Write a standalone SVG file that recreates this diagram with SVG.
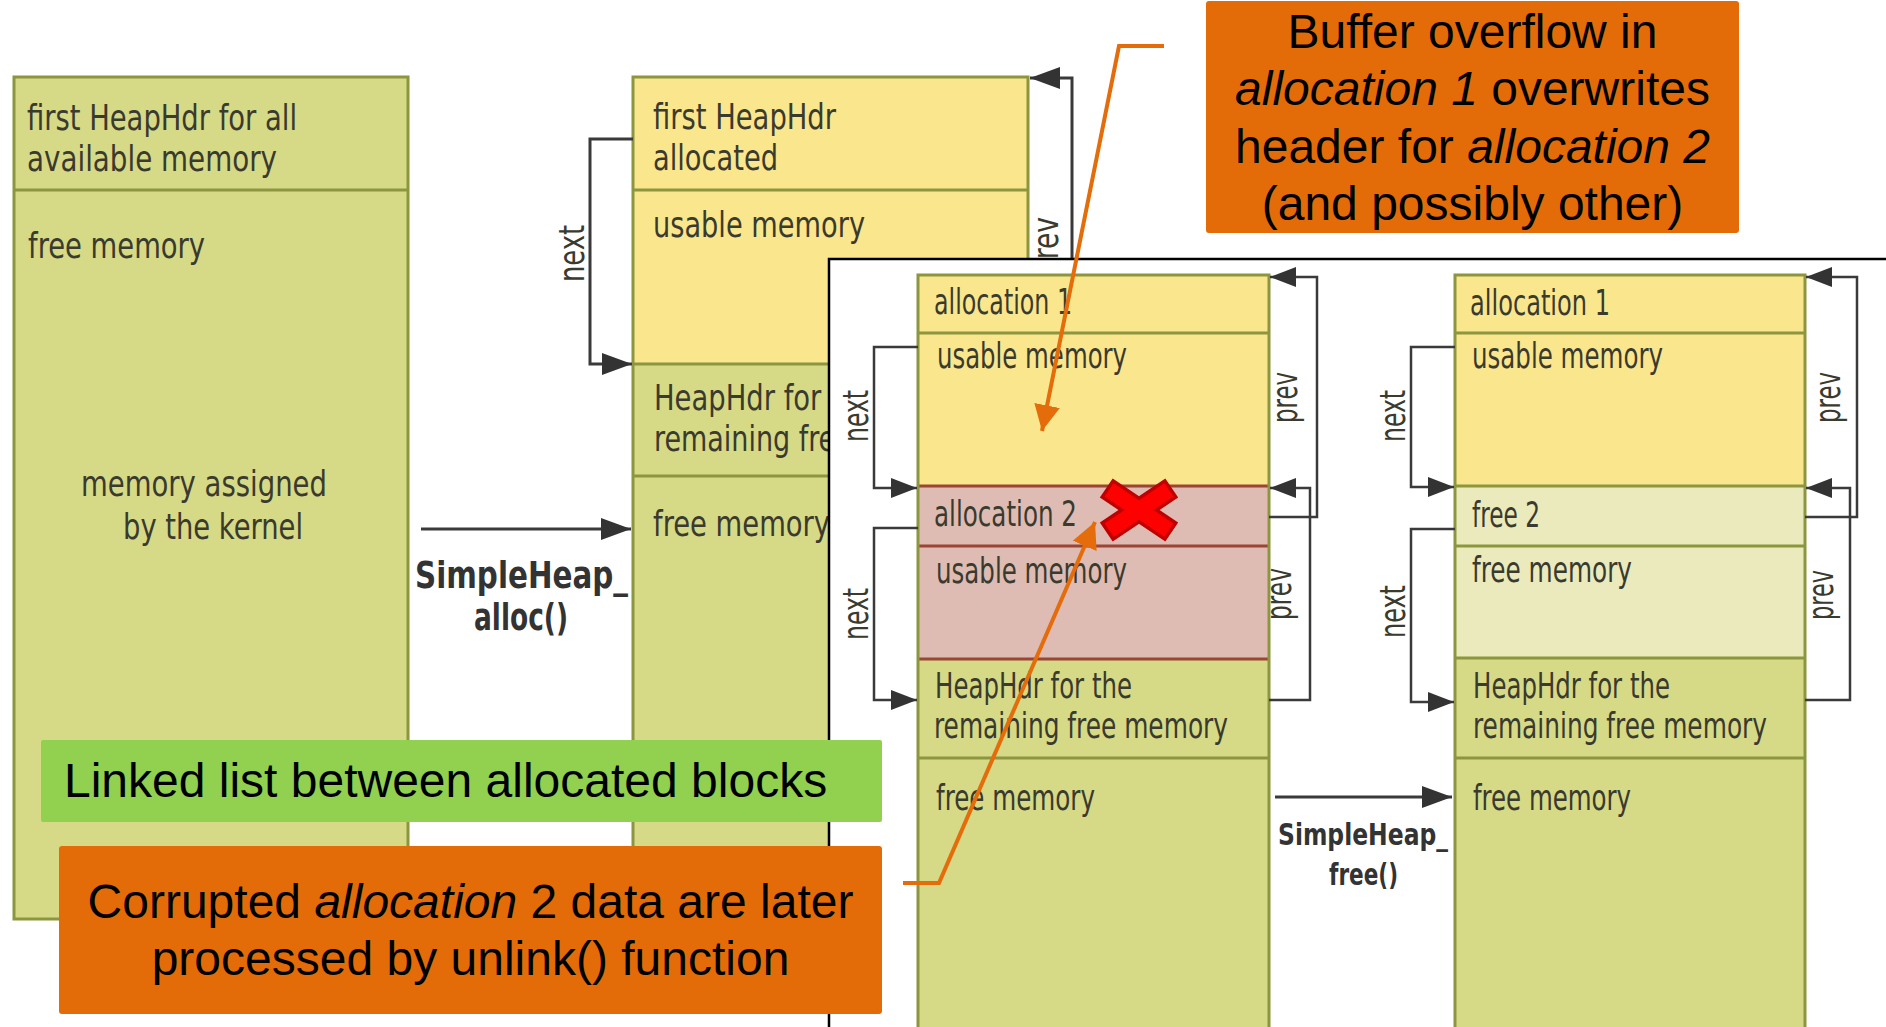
<svg xmlns="http://www.w3.org/2000/svg" width="1886" height="1027" viewBox="0 0 1886 1027">
<defs>
<style>
.t{font-family:"Liberation Sans Narrow","Arial Narrow","DejaVu Sans Condensed",sans-serif;fill:#3a3a2e;}
.ta{font-size:36px}
.tc{font-size:35px}
.lb{font-family:"Liberation Sans Narrow","Arial Narrow","DejaVu Sans Condensed",sans-serif;font-weight:bold;fill:#333333}
.n{font-family:"Liberation Sans",Arial,sans-serif;font-size:48px;fill:#000000}
.olive{fill:#D6D986}
.yel{fill:#FAE68C}
.pink{fill:#DFBCB3}
.pale{fill:#EAEABD}
.bd{fill:none;stroke:#8C963E;stroke-width:3}
.dv{stroke:#8C963E;stroke-width:3}
.dr{stroke:#9A4535;stroke-width:3}
.ln{fill:none;stroke:#3a3a3a;stroke-width:3}
.lns{fill:none;stroke:#3a3a3a;stroke-width:2.5}
.or{fill:none;stroke:#E46C0A;stroke-width:4}
</style>
<marker id="ah" viewBox="0 0 10 10" refX="10" refY="5" markerWidth="30" markerHeight="22" markerUnits="userSpaceOnUse" orient="auto" preserveAspectRatio="none"><path d="M0,0 L10,5 L0,10 z" fill="#333333"/></marker>
<marker id="ahs" viewBox="0 0 10 10" refX="10" refY="5" markerWidth="26" markerHeight="20" markerUnits="userSpaceOnUse" orient="auto" preserveAspectRatio="none"><path d="M0,0 L10,5 L0,10 z" fill="#333333"/></marker>
<marker id="aho" viewBox="0 0 10 10" refX="10" refY="5" markerWidth="26" markerHeight="26" markerUnits="userSpaceOnUse" orient="auto" preserveAspectRatio="none"><path d="M0,0 L10,5 L0,10 z" fill="#E46C0A"/></marker>
</defs>
<rect width="1886" height="1027" fill="#ffffff"/>

<!-- Column A -->
<g id="col-a">
<rect class="olive" x="14" y="77" width="394" height="842"/>
<line class="dv" x1="14" y1="190" x2="408" y2="190"/>
<rect class="bd" x="14" y="77" width="394" height="842"/>
<text class="t ta" x="27" y="130" textLength="270" lengthAdjust="spacingAndGlyphs">first HeapHdr for all</text>
<text class="t ta" x="27" y="171" textLength="250" lengthAdjust="spacingAndGlyphs">available memory</text>
<text class="t ta" x="28" y="258" textLength="177" lengthAdjust="spacingAndGlyphs">free memory</text>
<text class="t ta" x="81" y="496" textLength="246" lengthAdjust="spacingAndGlyphs">memory assigned</text>
<text class="t ta" x="123" y="539" textLength="180" lengthAdjust="spacingAndGlyphs">by the kernel</text>
</g>

<!-- Column B -->
<g id="col-b">
<rect class="yel" x="633" y="77" width="395" height="287"/>
<rect class="olive" x="633" y="364" width="395" height="636"/>
<line class="dv" x1="633" y1="190" x2="1028" y2="190"/>
<line class="dv" x1="633" y1="364" x2="1028" y2="364"/>
<line class="dv" x1="633" y1="476" x2="1028" y2="476"/>
<rect class="bd" x="633" y="77" width="395" height="923"/>
<text class="t ta" x="653" y="129" textLength="183" lengthAdjust="spacingAndGlyphs">first HeapHdr</text>
<text class="t ta" x="653" y="170" textLength="125" lengthAdjust="spacingAndGlyphs">allocated</text>
<text class="t ta" x="653" y="237" textLength="212" lengthAdjust="spacingAndGlyphs">usable memory</text>
<text class="t ta" x="654" y="410" textLength="221" lengthAdjust="spacingAndGlyphs">HeapHdr for the</text>
<text class="t ta" x="654" y="451" textLength="319" lengthAdjust="spacingAndGlyphs">remaining free memory</text>
<text class="t ta" x="653" y="536" textLength="177" lengthAdjust="spacingAndGlyphs">free memory</text>
</g>

<g id="connectors-b">
<path class="ln" d="M633 139 H590 V364 H632" marker-end="url(#ah)"/>
<path class="ln" d="M1072 300 V78 H1030" marker-end="url(#ah)"/>
<path class="ln" d="M421 529 H631" marker-end="url(#ah)"/>
<text class="t ta" transform="translate(584,282) rotate(-90)" textLength="57" lengthAdjust="spacingAndGlyphs">next</text>
<text class="t ta" transform="translate(1058,276) rotate(-90)" textLength="59" lengthAdjust="spacingAndGlyphs">prev</text>
<text class="lb" font-size="38" x="415" y="588" textLength="213" lengthAdjust="spacingAndGlyphs">SimpleHeap_</text>
<text class="lb" font-size="38" x="474" y="630" textLength="94" lengthAdjust="spacingAndGlyphs">alloc()</text>
</g>

<!-- Inset panel -->
<g id="inset">
<rect x="829" y="259" width="1100" height="800" fill="#ffffff" stroke="#000000" stroke-width="2.5"/>
</g>

<!-- Column C -->
<g id="col-c">
<rect class="yel" x="918" y="275" width="351" height="211"/>
<rect class="pink" x="918" y="486" width="351" height="173"/>
<rect class="olive" x="918" y="659" width="351" height="381"/>
<line class="dv" x1="918" y1="333" x2="1269" y2="333"/>
<line class="dr" x1="918" y1="486" x2="1269" y2="486"/>
<line class="dr" x1="918" y1="546" x2="1269" y2="546"/>
<line class="dr" x1="918" y1="659" x2="1269" y2="659"/>
<line class="dv" x1="918" y1="758" x2="1269" y2="758"/>
<rect class="bd" x="918" y="275" width="351" height="765"/>
<text class="t tc" x="934" y="314" textLength="138" lengthAdjust="spacingAndGlyphs">allocation 1</text>
<text class="t tc" x="937" y="368" textLength="190" lengthAdjust="spacingAndGlyphs">usable memory</text>
<text class="t tc" x="934" y="526" textLength="143" lengthAdjust="spacingAndGlyphs">allocation 2</text>
<text class="t tc" x="936" y="583" textLength="191" lengthAdjust="spacingAndGlyphs">usable memory</text>
<text class="t tc" x="935" y="698" textLength="197" lengthAdjust="spacingAndGlyphs">HeapHdr for the</text>
<text class="t tc" x="934" y="738" textLength="294" lengthAdjust="spacingAndGlyphs">remaining free memory</text>
<text class="t tc" x="936" y="810" textLength="159" lengthAdjust="spacingAndGlyphs">free memory</text>
</g>

<!-- Column D -->
<g id="col-d">
<rect class="yel" x="1455" y="275" width="350" height="211"/>
<rect class="pale" x="1455" y="486" width="350" height="172"/>
<rect class="olive" x="1455" y="658" width="350" height="382"/>
<line class="dv" x1="1455" y1="333" x2="1805" y2="333"/>
<line class="dv" x1="1455" y1="486" x2="1805" y2="486"/>
<line class="dv" x1="1455" y1="546" x2="1805" y2="546"/>
<line class="dv" x1="1455" y1="658" x2="1805" y2="658"/>
<line class="dv" x1="1455" y1="758" x2="1805" y2="758"/>
<rect class="bd" x="1455" y="275" width="350" height="765"/>
<text class="t tc" x="1470" y="315" textLength="140" lengthAdjust="spacingAndGlyphs">allocation 1</text>
<text class="t tc" x="1472" y="368" textLength="191" lengthAdjust="spacingAndGlyphs">usable memory</text>
<text class="t tc" x="1472" y="527" textLength="68" lengthAdjust="spacingAndGlyphs">free 2</text>
<text class="t tc" x="1472" y="582" textLength="160" lengthAdjust="spacingAndGlyphs">free memory</text>
<text class="t tc" x="1473" y="698" textLength="197" lengthAdjust="spacingAndGlyphs">HeapHdr for the</text>
<text class="t tc" x="1473" y="738" textLength="294" lengthAdjust="spacingAndGlyphs">remaining free memory</text>
<text class="t tc" x="1473" y="810" textLength="158" lengthAdjust="spacingAndGlyphs">free memory</text>
</g>

<!-- Connectors in inset -->
<g id="connectors">
<path class="lns" d="M918 347 H874 V488 H917" marker-end="url(#ahs)"/>
<path class="lns" d="M918 528 H874 V700 H917" marker-end="url(#ahs)"/>
<path class="lns" d="M1269 517 H1317 V277 H1270" marker-end="url(#ahs)"/>
<path class="lns" d="M1269 700 H1310 V488 H1270" marker-end="url(#ahs)"/>
<path class="lns" d="M1455 347 H1411 V487 H1454" marker-end="url(#ahs)"/>
<path class="lns" d="M1455 529 H1411 V702 H1454" marker-end="url(#ahs)"/>
<path class="lns" d="M1805 517 H1857 V277 H1806" marker-end="url(#ahs)"/>
<path class="lns" d="M1805 700 H1850 V488 H1806" marker-end="url(#ahs)"/>
<path class="ln" d="M1275 797 H1452" marker-end="url(#ah)"/>
<text class="t tc" transform="translate(868,442) rotate(-90)" textLength="52" lengthAdjust="spacingAndGlyphs">next</text>
<text class="t tc" transform="translate(868,640) rotate(-90)" textLength="52" lengthAdjust="spacingAndGlyphs">next</text>
<text class="t tc" transform="translate(1297,423) rotate(-90)" textLength="51" lengthAdjust="spacingAndGlyphs">prev</text>
<text class="t tc" transform="translate(1291,620) rotate(-90)" textLength="52" lengthAdjust="spacingAndGlyphs">prev</text>
<text class="t tc" transform="translate(1405,442) rotate(-90)" textLength="52" lengthAdjust="spacingAndGlyphs">next</text>
<text class="t tc" transform="translate(1405,638) rotate(-90)" textLength="53" lengthAdjust="spacingAndGlyphs">next</text>
<text class="t tc" transform="translate(1840,423) rotate(-90)" textLength="51" lengthAdjust="spacingAndGlyphs">prev</text>
<text class="t tc" transform="translate(1833,620) rotate(-90)" textLength="50" lengthAdjust="spacingAndGlyphs">prev</text>
<text class="lb" font-size="31" x="1278" y="845" textLength="170" lengthAdjust="spacingAndGlyphs">SimpleHeap_</text>
<text class="lb" font-size="31" x="1329" y="885" textLength="69" lengthAdjust="spacingAndGlyphs">free()</text>
</g>

<!-- Red X -->
<g id="red-x" transform="translate(1139,510)">
<g fill="#C00000" stroke="#C00000" stroke-width="7">
<rect x="-36" y="-8" width="72" height="16" transform="rotate(34)"/>
<rect x="-36" y="-8" width="72" height="16" transform="rotate(-34)"/>
</g>
<g fill="#FF0000">
<rect x="-36" y="-8" width="72" height="16" transform="rotate(34)"/>
<rect x="-36" y="-8" width="72" height="16" transform="rotate(-34)"/>
</g>
</g>

<!-- Orange callout connectors -->
<g id="callout-connectors">
<path class="or" d="M1164 46 H1119 L1042 431" marker-end="url(#aho)"/>
<path class="or" d="M903 883 H939 L1095 522" marker-end="url(#aho)"/>
</g>

<!-- Annotation boxes -->
<g id="note-overflow">
<rect x="1206" y="1" width="533" height="232" rx="3" fill="#E36C09"/>
<text class="n" x="1472.5" y="48" text-anchor="middle">Buffer overflow in</text>
<text class="n" x="1472.5" y="105" text-anchor="middle"><tspan font-style="italic">allocation 1</tspan> overwrites</text>
<text class="n" x="1472.5" y="163" text-anchor="middle">header for <tspan font-style="italic">allocation 2</tspan></text>
<text class="n" x="1472.5" y="220" text-anchor="middle">(and possibly other)</text>
</g>

<g id="note-linked">
<rect x="41" y="740" width="841" height="82" rx="2" fill="#92D050"/>
<text class="n" x="64" y="797">Linked list between allocated blocks</text>
</g>

<g id="note-corrupted">
<rect x="59" y="846" width="823" height="168" rx="3" fill="#E36C09"/>
<text class="n" x="470.5" y="918" text-anchor="middle">Corrupted <tspan font-style="italic">allocation</tspan> 2 data are later</text>
<text class="n" x="470.5" y="975" text-anchor="middle">processed by unlink() function</text>
</g>
</svg>
